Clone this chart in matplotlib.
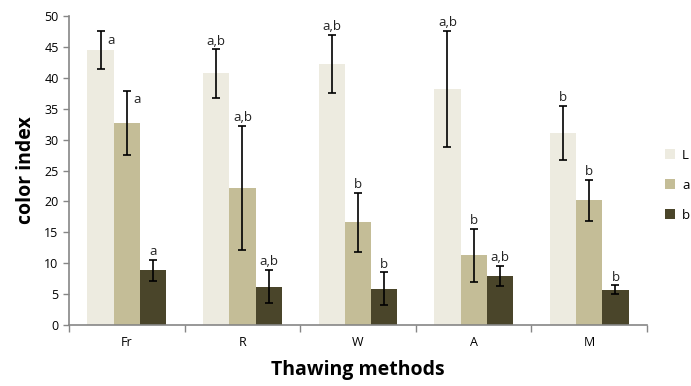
import numpy as np
import matplotlib
matplotlib.use("Agg")
import matplotlib.pyplot as plt
from matplotlib.ticker import FixedLocator

methods = ["Fr", "R", "W", "A", "M"]
series = ["L", "a", "b"]

L_vals = [44.5, 40.7, 42.3, 38.2, 31.1]
L_err = [3.0, 3.9, 4.7, 9.4, 4.4]
a_vals = [32.7, 22.2, 16.6, 11.3, 20.2]
a_err = [5.2, 10.0, 4.8, 4.3, 3.3]
b_vals = [8.9, 6.2, 5.9, 7.9, 5.7]
b_err = [1.7, 2.7, 2.6, 1.6, 0.7]

L_sig = ["a", "a,b", "a,b", "a,b", "b"]
a_sig = ["a", "a,b", "b", "b", "b"]
b_sig = ["a", "a,b", "b", "a,b", "b"]

colors = ["#EDEBE0", "#C4BD97", "#4A452A"]

plt.rcParams["font.family"] = ["Open Sans", "DejaVu Sans"]

fig = plt.figure(figsize=(6.91, 3.86), dpi=100)
ax = fig.add_axes([0.0999, 0.158, 0.8365, 0.8005])

x = np.arange(len(methods))
w = 0.227
allvals = [L_vals, a_vals, b_vals]
allerr = [L_err, a_err, b_err]
allsig = [L_sig, a_sig, b_sig]

for i, (vals, err, sig) in enumerate(zip(allvals, allerr, allsig)):
    pos = x + (i - 1) * w
    ax.bar(pos, vals, width=w, color=colors[i], label=series[i], zorder=2)
    ax.errorbar(pos, vals, yerr=err, fmt="none", ecolor="black",
                elinewidth=1.2, capsize=3, capthick=1.2, zorder=3)
    for j, p in enumerate(pos):
        top = vals[j] + err[j]
        if j == 0 and i < 2:
            # first group: letter sits right of the cap
            ax.text(p + 0.06, top - 1.4, sig[j], ha="left", va="center",
                    fontsize=9.5, color="#222222")
        else:
            ax.text(p, top + 0.3, sig[j], ha="center", va="bottom",
                    fontsize=9.5, color="#222222")

ax.set_xlim(-0.5, len(methods) - 0.5)
ax.set_ylim(0, 50)
ax.set_yticks(np.arange(0, 51, 5))
ax.set_xticks(x)
ax.set_xticklabels(methods)
ax.xaxis.set_minor_locator(FixedLocator(np.arange(-0.5, len(methods), 1.0)))
ax.tick_params(axis="x", which="major", length=0, labelsize=9, pad=8)
ax.tick_params(axis="x", which="minor", length=5, color="#868686", width=1)
ax.tick_params(axis="y", length=4, color="#868686", width=1, labelsize=9)

for s in ["top", "right"]:
    ax.spines[s].set_visible(False)
for s in ["left", "bottom"]:
    ax.spines[s].set_color("#868686")
    ax.spines[s].set_linewidth(1.2)

ax.set_xlabel("Thawing methods", fontsize=14, fontweight="bold", labelpad=8)
ax.set_ylabel("color index", fontsize=14, fontweight="bold", labelpad=6)

ax.legend(loc="center left", bbox_to_anchor=(0.945, 0.52),
          bbox_transform=fig.transFigure, frameon=False, fontsize=9.5,
          handlelength=0.8, handleheight=0.8, handletextpad=0.5,
          labelspacing=1.3)

fig.savefig("out.png", dpi=100)
